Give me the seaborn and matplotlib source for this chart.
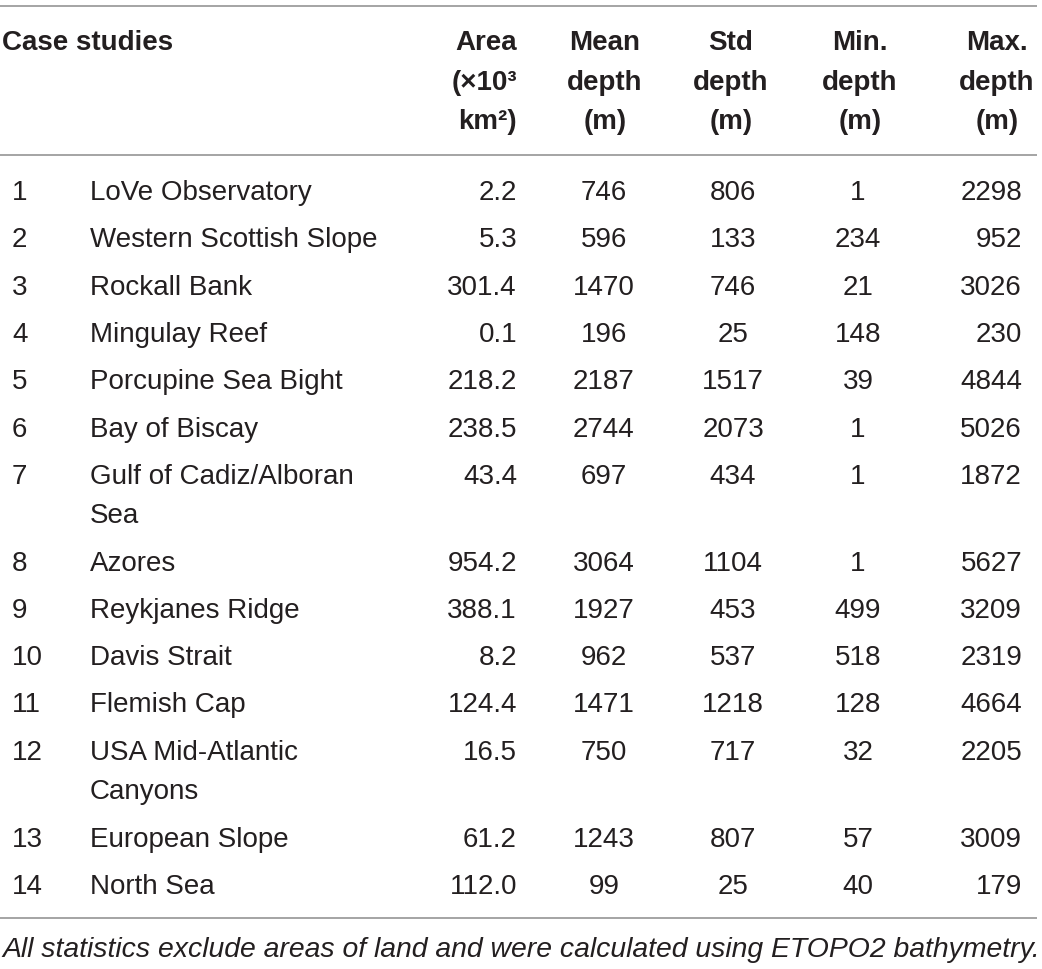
import matplotlib
matplotlib.use("Agg")
import matplotlib.pyplot as plt
import seaborn as sns

# table contents
case_ids = list(range(1, 15))
case_names = [
    "LoVe Observatory", "Western Scottish Slope", "Rockall Bank", "Mingulay Reef",
    "Porcupine Sea Bight", "Bay of Biscay", "Gulf of Cadiz/Alboran\nSea", "Azores",
    "Reykjanes Ridge", "Davis Strait", "Flemish Cap", "USA Mid-Atlantic\nCanyons",
    "European Slope", "North Sea",
]
area = [2.2, 5.3, 301.4, 0.1, 218.2, 238.5, 43.4, 954.2, 388.1, 8.2, 124.4, 16.5, 61.2, 112.0]
mean_depth = [746, 596, 1470, 196, 2187, 2744, 697, 3064, 1927, 962, 1471, 750, 1243, 99]
std_depth = [806, 133, 746, 25, 1517, 2073, 434, 1104, 453, 537, 1218, 717, 807, 25]
min_depth = [1, 234, 21, 148, 39, 1, 1, 1, 499, 518, 128, 32, 57, 40]
max_depth = [2298, 952, 3026, 230, 4844, 5026, 1872, 5627, 3209, 2319, 4664, 2205, 3009, 179]

headers = ["Area\n(\u00d710\u00b3\nkm\u00b2)", "Mean\ndepth\n(m)", "Std\ndepth\n(m)",
           "Min.\ndepth\n(m)", "Max.\ndepth\n(m)"]
footnote = "All statistics exclude areas of land and were calculated using ETOPO2 bathymetry."

sns.set_theme(style="white")
plt.rcParams["font.family"] = ["Liberation Sans", "DejaVu Sans"]

W, H = 1042, 969
fig = plt.figure(figsize=(W / 100, H / 100), dpi=100)
ax = fig.add_axes([0, 0, 1, 1])
ax.set_xlim(0, W)
ax.set_ylim(H, 0)
ax.axis("off")

ink = "#231f20"
rule = "#9d9d9d"
fs = 20
line_gap = 39.5
row_gap = 47.3

# rules
ax.hlines([6, 155, 918], 0, 1037, color=rule, lw=1.3)

# header
ax.text(2, 50, "Case studies", fontsize=fs, fontweight="bold", color=ink, va="baseline")
head_x = [517, 605, 731, 860, 997]
head_ha = ["right", "center", "center", "center", "center"]
for hx, ha, txt in zip(head_x, head_ha, headers):
    for k, part in enumerate(txt.split("\n")):
        ax.text(hx, 50 + k * line_gap, part, fontsize=fs, fontweight="bold",
                color=ink, ha=ha, va="baseline")

# body
col_x = [517, 604, 733, 858, 1022]
col_ha = ["right", "center", "center", "center", "right"]
y = 200
for i in range(len(case_ids)):
    vals = [f"{area[i]:.1f}", str(mean_depth[i]), str(std_depth[i]),
            str(min_depth[i]), str(max_depth[i])]
    ax.text(12, y, str(case_ids[i]), fontsize=fs, color=ink, va="baseline")
    name_lines = case_names[i].split("\n")
    for k, part in enumerate(name_lines):
        ax.text(90, y + k * line_gap, part, fontsize=fs, color=ink, va="baseline")
    for cx, ha, v in zip(col_x, col_ha, vals):
        ax.text(cx, y, v, fontsize=fs, color=ink, ha=ha, va="baseline")
    y += row_gap + (len(name_lines) - 1) * line_gap

# footnote stretched to the table width
note = ax.text(2, 957, footnote, fontsize=fs, fontstyle="italic", color=ink, va="baseline")
fig.canvas.draw()
w = note.get_window_extent().width
note.set_fontsize(fs * 1035 / w)

fig.savefig("out.png", dpi=100, facecolor="white")
